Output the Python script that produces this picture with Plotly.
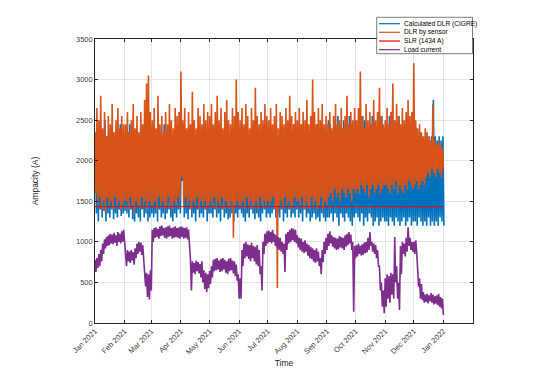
import plotly.graph_objects as go
import pandas as pd

# ---------------- data ----------------
start_date = "2021-01-01"          # first sample; one (high, low) pair every 2 days
slr_value = 1434
slr_span = ["2021-01-01", "2021-12-31"]

month_ticks = ["2021-01-01", "2021-02-01", "2021-03-01", "2021-04-01", "2021-05-01",
               "2021-06-01", "2021-07-01", "2021-08-01", "2021-09-01", "2021-10-01",
               "2021-11-01", "2021-12-01", "2022-01-01"]
month_labels = ["Jan 2021", "Feb 2021", "Mar 2021", "Apr 2021", "May 2021", "Jun 2021",
                "Jul 2021", "Aug 2021", "Sep 2021", "Oct 2021", "Nov 2021", "Dec 2021",
                "Jan 2022"]
y_ticks = [0, 500, 1000, 1500, 2000, 2500, 3000, 3500]

series_names = ["Calculated DLR (CIGRE)", "DLR by sensor", "SLR (1434 A)", "Load current"]

# DLR by sensor (orange): local highs / lows
sensor_hi = [
    2350, 2650, 2500, 2800, 2400, 2600, 2300, 2550, 2450, 2700, 2350, 2500, 2650, 2400, 2550, 2450,  # Jan
    2450, 2600, 2350, 2500, 2700, 2400, 2550, 2350, 2600, 2450, 2750, 2950, 3050, 2600,  # Feb
    2500, 2650, 2400, 2800, 2450, 2550, 2350, 2600, 2450, 2700, 2500, 2400, 2650, 2550, 2600,  # Mar
    3100, 2500, 2650, 2400, 2600, 2450, 2850, 2500, 2400, 2650, 2550, 2450, 2700, 2500, 2600,  # Apr
    2550, 2700, 2450, 2600, 2800, 2500, 2650, 2400, 2600, 2750, 2500, 2450, 2650, 2550, 3000, 2600,  # May
    2500, 2650, 2450, 2700, 2550, 2400, 2650, 2500, 2900, 2550, 2450, 2600, 2500, 2700, 2550,  # Jun
    2500, 2650, 2450, 2550, 2700, 2400, 2600, 2550, 2450, 2650, 2500, 2800, 2550, 2450, 2600,  # Jul
    2500, 2650, 2450, 2600, 2500, 2750, 2450, 2550, 3000, 2600, 2450, 2650, 2500, 2700, 2450, 2550,  # Aug
    2450, 2600, 2400, 2550, 2700, 2450, 2500, 2650, 2400, 2550, 2800, 2450, 2600, 2500, 2650,  # Sep
    2500, 2650, 3100, 2550, 2400, 2700, 2500, 2600, 2450, 2750, 2500, 2600, 2900, 2550, 2450,  # Oct
    2500, 2650, 2450, 2600, 2950, 2500, 2700, 2550, 2450, 2650, 2500, 2600, 2750, 2550, 2600,  # Nov
    3200, 2500, 2400, 2450, 2350, 2300, 2400, 2350, 2300, 2250, 2700, 2250, 2200, 2250, 2200, 2150,  # Dec
]
sensor_lo = [
    1600, 1450, 1550, 1400, 1500, 1350, 1550, 1450, 1500, 1400, 1550, 1450, 1500, 1380, 1450, 1500,  # Jan
    1500, 1400, 1550, 1450, 1350, 1500, 1450, 1400, 1550, 1450, 1500, 1400, 1500, 1450,  # Feb
    1450, 1500, 1400, 1550, 1450, 1500, 1400, 1450, 1550, 1450, 1400, 1500, 1450, 1550, 1500,  # Mar
    1800, 1450, 1550, 1450, 1500, 1400, 1500, 1450, 1550, 1400, 1500, 1450, 1500, 1400, 1450,  # Apr
    1500, 1450, 1550, 1400, 1500, 1450, 1550, 1400, 1500, 1450, 1400, 1500, 1050, 1450, 1500, 1450,  # May
    1450, 1500, 1400, 1550, 1450, 1500, 1400, 1450, 1500, 1400, 1550, 1450, 1500, 1450, 1500,  # Jun
    1450, 1500, 1550, 1400, 430, 1450, 1500, 1400, 1550, 1450, 1500, 1400, 1450, 1550, 1500,  # Jul
    1500, 1450, 1550, 1400, 1500, 1450, 1400, 1550, 1450, 1500, 1400, 1450, 1550, 1400, 1500, 1450,  # Aug
    1550, 1600, 1500, 1650, 1550, 1600, 1500, 1650, 1600, 1550, 1650, 1600, 1500, 1650, 1600,  # Sep
    1650, 1600, 1700, 1650, 1600, 1700, 1550, 1650, 1700, 1600, 1650, 1700, 1600, 1650, 1700,  # Oct
    1700, 1650, 1600, 1700, 1650, 1750, 1600, 1700, 1650, 1600, 1700, 1650, 1750, 1700, 1650,  # Nov
    1700, 1750, 1650, 1700, 1750, 1700, 1800, 1850, 1800, 1900, 1850, 1800, 1900, 1850, 1800, 1900,  # Dec
]

# Calculated DLR (CIGRE) (blue): local highs / lows
cigre_hi = [
    2300, 2250, 2350, 2200, 2300, 2500, 2300, 2250, 2200, 2350, 2300, 2250, 2300, 2450, 2250, 2300,  # Jan
    2250, 2350, 2450, 2300, 2250, 2200, 2350, 2300, 2250, 2200, 2300, 2450, 2300, 2250,  # Feb
    2300, 2250, 2350, 2200, 2300, 2250, 2450, 2300, 2200, 2250, 2300, 2350, 2250, 2300, 2250,  # Mar
    2300, 2450, 2250, 2300, 2200, 2350, 2250, 2300, 2250, 2200, 2300, 2400, 2250, 2300, 2250,  # Apr
    2300, 2250, 2350, 2200, 2300, 2450, 2250, 2300, 2200, 2350, 2250, 2300, 2250, 2200, 2300, 2250,  # May
    2250, 2300, 2400, 2250, 2300, 2200, 2250, 2300, 2250, 2400, 2250, 2300, 2450, 2250, 2300,  # Jun
    2300, 2250, 2350, 2200, 2300, 2250, 2300, 2200, 2400, 2250, 2300, 2250, 2200, 2450, 2300,  # Jul
    2300, 2250, 2450, 2300, 2250, 2200, 2350, 2300, 2250, 2300, 2450, 2250, 2300, 2200, 2400, 2300,  # Aug
    2500, 2450, 2350, 2500, 2400, 2550, 2350, 2400, 2500, 2450, 2400, 2550, 2450, 2400, 2500,  # Sep
    2400, 2450, 2350, 2550, 2500, 2350, 2400, 2450, 2550, 2400, 2300, 2450, 2400, 2550, 2400,  # Oct
    2350, 2400, 2550, 2450, 2350, 2400, 2300, 2550, 2400, 2300, 2450, 2350, 2300, 2400, 2550,  # Nov
    2350, 2400, 2300, 2350, 2300, 2250, 2350, 2300, 2250, 2300, 2750, 2300, 2250, 2300, 2250, 2300,  # Dec
]
cigre_lo = [
    1350, 1250, 1400, 1300, 1380, 1250, 1350, 1300, 1400, 1280, 1350, 1300, 1400, 1320, 1350, 1380,  # Jan
    1350, 1300, 1400, 1280, 1250, 1350, 1300, 1250, 1400, 1300, 1350, 1250, 1300, 1350,  # Feb
    1300, 1350, 1250, 1400, 1300, 1350, 1280, 1350, 1400, 1300, 1250, 1350, 1300, 1400, 1350,  # Mar
    1750, 1300, 1350, 1280, 1400, 1300, 1350, 1250, 1400, 1300, 1350, 1300, 1400, 1250, 1350,  # Apr
    1350, 1300, 1400, 1300, 1350, 1250, 1400, 1300, 1350, 1280, 1300, 1350, 1250, 1350, 1300, 1400,  # May
    1350, 1300, 1250, 1350, 1300, 1400, 1350, 1280, 1350, 1300, 1250, 1350, 1400, 1300, 1350,  # Jun
    1300, 1350, 1400, 1300, 1350, 1300, 1400, 1250, 1350, 1300, 1400, 1300, 1350, 1300, 1400,  # Jul
    1300, 1350, 1250, 1400, 1300, 1350, 1250, 1300, 1350, 1280, 1300, 1250, 1350, 1300, 1250, 1300,  # Aug
    1300, 1350, 1250, 1350, 1300, 1200, 1350, 1300, 1250, 1350, 1300, 1250, 1200, 1300, 1350,  # Sep
    1300, 1250, 1350, 1200, 1300, 1250, 1350, 1300, 1200, 1250, 1300, 1200, 1250, 1300, 1250,  # Oct
    1250, 1200, 1300, 1250, 1200, 1300, 1250, 1200, 1250, 1300, 1200, 1250, 1300, 1200, 1250,  # Nov
    1250, 1200, 1300, 1250, 1200, 1250, 1200, 1300, 1200, 1250, 1200, 1250, 1200, 1300, 1250, 1200,  # Dec
]

# Load current (purple): local highs / lows
load_hi = [
    780, 800, 850, 900, 980, 1030, 1060, 1080, 1100, 1090, 1110, 1080, 1120, 1100, 1130, 1150,  # Jan
    950, 900, 880, 900, 870, 920, 980, 1000, 990, 960, 700, 620, 600, 650,  # Feb
    1150, 1170, 1180, 1160, 1190, 1200, 1170, 1180, 1190, 1200, 1170, 1180, 1190, 1170, 1180,  # Mar
    1190, 1180, 1170, 1180, 1150, 780, 760, 740, 770, 750, 730, 760, 650, 620, 600,  # Apr
    640, 700, 780, 790, 800, 770, 790, 800, 780, 760, 790, 800, 770, 760, 720, 600,  # May
    550, 900, 980, 1000, 970, 960, 990, 950, 940, 960, 900, 700, 1000, 1100, 1130,  # Jun
    1140, 1120, 1150, 1100, 1080, 1060, 1050, 1000, 980, 1100, 1120, 1150, 1170, 1160, 1150,  # Jul
    1080, 1050, 1040, 1000, 1020, 980, 960, 940, 920, 900, 920, 880, 800, 900, 1000, 1050,  # Aug
    1100, 1130, 1080, 1060, 1050, 1040, 1070, 1060, 1050, 1080, 1100, 1120, 1090, 1000, 950,  # Sep
    960, 980, 950, 970, 990, 1000, 1050, 1120, 1000, 980, 960, 900, 700, 500, 400,  # Oct
    550, 600, 580, 620, 600, 1060, 700, 500, 950, 1000, 980, 1050, 1180, 1050, 1000,  # Nov
    1000, 1020, 600, 550, 480, 380, 350, 360, 340, 370, 350, 330, 340, 360, 320, 300,  # Dec
]
load_lo = [
    630, 680, 700, 760, 850, 920, 950, 960, 980, 970, 990, 950, 1000, 980, 1000, 1010,  # Jan
    700, 760, 740, 770, 720, 800, 850, 880, 840, 780, 450, 320, 290, 400,  # Feb
    1000, 1050, 1060, 1040, 1070, 1080, 1050, 1040, 1060, 1070, 1040, 1050, 1060, 1050, 1040,  # Mar
    1060, 1040, 1050, 1030, 1000, 400, 620, 600, 640, 610, 560, 500, 420, 380, 430,  # Apr
    480, 560, 640, 650, 660, 630, 640, 660, 620, 600, 640, 650, 610, 580, 520, 300,  # May
    300, 700, 800, 820, 790, 760, 800, 760, 720, 700, 600, 400, 850, 950, 980,  # Jun
    1000, 980, 1000, 950, 920, 900, 880, 850, 630, 900, 980, 1000, 1020, 1000, 980,  # Jul
    930, 900, 880, 860, 880, 830, 800, 790, 760, 740, 760, 700, 600, 750, 850, 900,  # Aug
    950, 980, 940, 920, 900, 910, 930, 920, 900, 940, 960, 980, 900, 140, 800,  # Sep
    820, 850, 830, 840, 860, 870, 900, 950, 880, 850, 800, 700, 400, 200, 120,  # Oct
    200, 300, 250, 350, 300, 500, 300, 160, 600, 850, 820, 880, 950, 900, 880,  # Nov
    850, 880, 450, 300, 280, 250, 260, 240, 270, 250, 230, 240, 220, 200, 180, 100,  # Dec
]

# ---------------- build series ----------------
t0 = pd.Timestamp(start_date)


def pairs(hi, lo, offset_h=0):
    xs, ys = [], []
    for i, (h, l) in enumerate(zip(hi, lo)):
        xs.append(t0 + pd.Timedelta(days=2 * i, hours=offset_h))
        ys.append(h)
        xs.append(t0 + pd.Timedelta(days=2 * i + 1, hours=offset_h))
        ys.append(l)
    return xs, ys


cx, cy = pairs(cigre_hi, cigre_lo, 12)
sx, sy = pairs(sensor_hi, sensor_lo, 0)
lx, ly = pairs(load_hi, load_lo, 0)

BLUE = "#0072BD"
ORANGE = "#D95319"
RED = "#FF0000"
PURPLE = "#7E2F8E"
colors = [BLUE, ORANGE, RED, PURPLE]

fig = go.Figure()
fig.add_trace(go.Scatter(x=cx, y=cy, mode="lines", name=series_names[0],
                         line=dict(color=BLUE, width=1.6)))
fig.add_trace(go.Scatter(x=sx, y=sy, mode="lines", name=series_names[1],
                         line=dict(color=ORANGE, width=1.6)))
fig.add_trace(go.Scatter(x=slr_span, y=[slr_value, slr_value], mode="lines",
                         name=series_names[2], line=dict(color=RED, width=1)))
fig.add_trace(go.Scatter(x=lx, y=ly, mode="lines", name=series_names[3],
                         line=dict(color=PURPLE, width=1.6)))

FONT = "Liberation Sans, Arial, sans-serif"
AX = "#262626"
GRID = "#e5e5e5"

# The page body has an 8px default margin, so the figure is shifted by (8, 8).
OFF = 8
# target plot-area in window pixels: left 95, right 473, top 39, bottom 323
L, T = 95 - OFF, 39 - OFF
W, H = 538 - OFF, 378 - OFF
pw, ph = 378, 284
R, B = W - L - pw, H - T - ph


def px(xp):   # window px -> paper x
    return (xp - 95) / pw


def py(yp):   # window px -> paper y
    return (323 - yp) / ph


shapes = [dict(type="rect", xref="paper", yref="paper",
               x0=px(376.7), x1=px(472.5), y0=py(53.7), y1=py(17.3),
               line=dict(color="#262626", width=0.6), fillcolor="white", layer="above")]
annotations = []
rows = [23.7, 32.3, 41.0, 49.7]
for name, col, ry in zip(series_names, colors, rows):
    shapes.append(dict(type="line", xref="paper", yref="paper",
                       x0=px(379), x1=px(400), y0=py(ry), y1=py(ry),
                       line=dict(color=col, width=1.2), layer="above"))
    annotations.append(dict(xref="paper", yref="paper", x=px(401.5), y=py(ry),
                            xanchor="left", yanchor="middle", text=name, showarrow=False,
                            font=dict(family=FONT, size=6.6, color="#000000")))

fig.update_layout(
    width=W, height=H,
    margin=dict(l=L, r=R, t=T, b=B, autoexpand=False),
    paper_bgcolor="white", plot_bgcolor="white",
    font=dict(family=FONT, size=8, color=AX),
    showlegend=False,
    shapes=shapes, annotations=annotations,
    xaxis=dict(range=["2021-01-01", "2022-02-01"], tickmode="array",
               tickvals=month_ticks, ticktext=month_labels, tickangle=-45,
               showline=True, linecolor=AX, linewidth=0.6, mirror="ticks",
               ticks="inside", ticklen=3, tickcolor=AX, automargin=False,
               showgrid=True, gridcolor=GRID, gridwidth=0.6, zeroline=False,
               tickfont=dict(size=7.5, color="#404040"),
               title=dict(text="Time", font=dict(size=8.5, color=AX), standoff=4)),
    yaxis=dict(range=[0, 3500], tickmode="array", tickvals=y_ticks,
               showline=True, linecolor=AX, linewidth=0.6, mirror="ticks",
               ticks="inside", ticklen=3, tickcolor=AX, automargin=False,
               showgrid=True, gridcolor=GRID, gridwidth=0.6, zeroline=False,
               tickfont=dict(size=7.5, color="#404040"),
               title=dict(text="Ampacity (A)", font=dict(size=8.5, color=AX), standoff=36)),
)

fig.write_html("out.html")
